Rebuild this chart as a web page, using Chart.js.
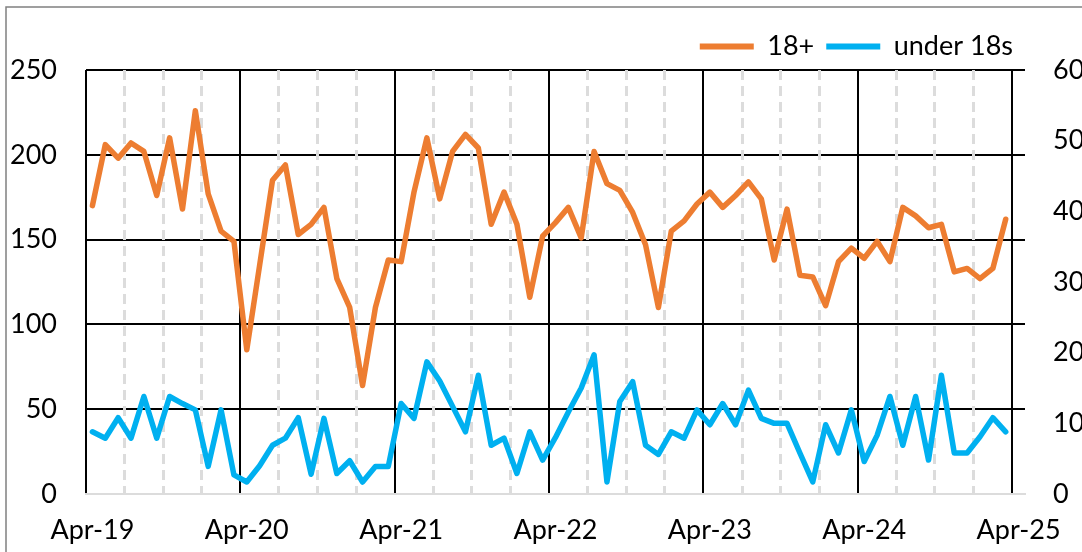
<!DOCTYPE html>
<html><head><meta charset="utf-8">
<script src="https://cdn.jsdelivr.net/npm/chart.js@4.4.1/dist/chart.umd.min.js"></script>
<style>html,body{margin:0;padding:0;background:#fff;} #wrap{width:1082px;height:552px;position:relative;}</style>
</head><body><div id="wrap"><canvas id="c" width="1082" height="552"></canvas></div>
<script>
// ---- data ----
const monthNames = ['Jan','Feb','Mar','Apr','May','Jun','Jul','Aug','Sep','Oct','Nov','Dec'];
const categories = [];
for (let i = 0; i < 73; i++) { // Apr-19 ... Apr-25
  const m = (3 + i) % 12, y = 19 + Math.floor((3 + i) / 12);
  categories.push(monthNames[m] + '-' + y);
}
const seriesNames = ['18+', 'under 18s'];
const adults = [170, 206, 198, 207, 202, 176, 210, 168, 226, 177, 155, 149,
  85, 135, 185, 194, 153, 159, 169, 127, 110, 64, 110, 138,
  137, 178, 210, 174, 202, 212, 204, 159, 178, 159, 116, 152,
  160, 169, 151, 202, 183, 179, 166, 147, 110, 155, 161, 171,
  178, 169, 176, 184, 174, 138, 168, 129, 128, 111, 137, 145,
  139, 149, 137, 169, 164, 157, 159, 131, 133, 127, 133, 162];
const under18s = [8.8, 7.9, 10.8, 7.9, 13.8, 7.9, 13.8, 12.8, 11.9, 3.9, 11.9, 2.7,
  1.7, 4.0, 6.9, 7.9, 10.8, 2.8, 10.7, 2.9, 4.7, 1.7, 3.9, 3.9,
  12.8, 10.7, 18.7, 16.0, 12.4, 8.8, 16.8, 6.9, 7.9, 2.9, 8.8, 4.8,
  8.0, 11.6, 15.0, 19.7, 1.7, 13.1, 15.9, 6.9, 5.6, 8.8, 7.9, 11.9,
  9.8, 12.8, 9.8, 14.7, 10.7, 10.0, 10.0, 5.8, 1.7, 9.8, 5.8, 11.9,
  4.6, 8.3, 13.8, 6.9, 13.8, 4.8, 16.8, 5.8, 5.8, 8.1, 10.8, 8.8];
const leftTicks = [0, 50, 100, 150, 200, 250];
const rightTicks = [0, 10, 20, 30, 40, 50, 60];

const ORANGE = '#ED7D31', BLUE = '#00B0F0', LIGHT = '#dcdcdc';
const FONT = 'Lato, "Open Sans", sans-serif';

const framePlugin = {
  id: 'frame',
  beforeDraw(chart) {
    const c = chart.ctx;
    c.save();
    c.fillStyle = '#fff';
    c.fillRect(0, 0, chart.width, chart.height);
    c.strokeStyle = '#808080';
    c.lineWidth = 1.5;
    c.strokeRect(6, 7, 3000, 3000);
    c.restore();
  }
};

const isTick = ctx => ctx.type === 'tick';
new Chart(document.getElementById('c'), {
  type: 'line',
  data: {
    labels: categories,
    datasets: [
      { label: seriesNames[0], data: adults, yAxisID: 'y', borderColor: ORANGE, backgroundColor: ORANGE,
        borderWidth: 5.5, pointRadius: 0, tension: 0, borderJoinStyle: 'round', borderCapStyle: 'round' },
      { label: seriesNames[1], data: under18s, yAxisID: 'y1', borderColor: BLUE, backgroundColor: BLUE,
        borderWidth: 5.5, pointRadius: 0, tension: 0, borderJoinStyle: 'round', borderCapStyle: 'round' }
    ]
  },
  options: {
    responsive: false,
    devicePixelRatio: 1,
    animation: false,
    layout: { padding: { top: 21, left: 0, right: 0, bottom: 0 } },
    font: { family: FONT },
    plugins: {
      tooltip: { enabled: false },
      legend: {
        position: 'top', align: 'end', fullSize: false,
        labels: {
          boxWidth: 54, boxHeight: 6, padding: 12, color: '#000',
          font: { family: FONT, size: 27 },
          generateLabels: chart => Chart.defaults.plugins.legend.labels.generateLabels(chart)
            .map(it => Object.assign(it, { fillStyle: it.strokeStyle, lineWidth: 0 }))
        }
      }
    },
    scales: {
      x: {
        type: 'category', offset: true,
        grid: {
          offset: true, drawTicks: false, z: -1,
          color: ctx => !isTick(ctx) ? 'rgba(0,0,0,0)' : (ctx.index % 12 === 0 ? '#000' : (ctx.index % 3 === 0 ? LIGHT : 'rgba(0,0,0,0)')),
          lineWidth: ctx => !isTick(ctx) ? 0 : (ctx.index % 12 === 0 ? 2 : 3)
        },
        border: {
          display: true, color: LIGHT, width: 2,
          dash: ctx => (isTick(ctx) && ctx.index % 12 !== 0 && ctx.index % 3 === 0) ? [10, 6] : []
        },
        ticks: {
          autoSkip: false, maxRotation: 0, minRotation: 0, padding: 20, color: '#000',
          font: { family: FONT, size: 27 },
          callback: (v, i) => (i % 12 === 0 ? categories[i] : '')
        },
        afterFit: s => { s.height = 58; }
      },
      y: {
        position: 'left', min: 0, max: 250,
        afterBuildTicks: s => { s.ticks = leftTicks.map(v => ({ value: v })); },
        grid: { drawTicks: false, z: -2, lineWidth: 2,
          color: ctx => (isTick(ctx) && ctx.tick.value === 0) ? LIGHT : '#000' },
        border: { display: false },
        ticks: { padding: 29, color: '#000', font: { family: FONT, size: 27 } },
        afterFit: s => { s.width = 86; }
      },
      y1: {
        position: 'right', min: 0, max: 60,
        afterBuildTicks: s => { s.ticks = rightTicks.map(v => ({ value: v })); },
        grid: { display: false, drawTicks: false, drawOnChartArea: false },
        border: { display: false },
        ticks: { padding: 28, color: '#000', font: { family: FONT, size: 27 } },
        afterFit: s => { s.width = 57; }
      }
    }
  },
  plugins: [framePlugin]
});
</script>
</body></html>
